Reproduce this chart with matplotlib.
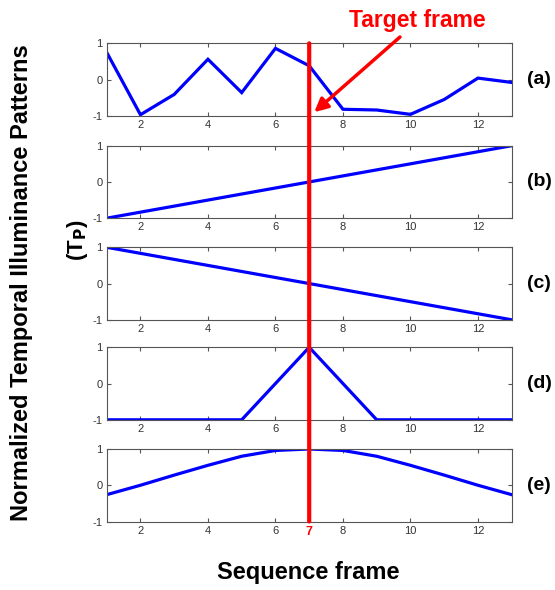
import matplotlib
matplotlib.use("Agg")
import matplotlib.pyplot as plt
from matplotlib.patches import ConnectionPatch

frames = list(range(1, 14))
pattern_a = [0.75, -0.97, -0.41, 0.56, -0.36, 0.86, 0.38, -0.82, -0.84, -0.96, -0.55, 0.04, -0.08]
pattern_b = [-1.0, -0.8333, -0.6667, -0.5, -0.3333, -0.1667, 0.0, 0.1667, 0.3333, 0.5, 0.6667, 0.8333, 1.0]
pattern_c = [1.0, 0.8333, 0.6667, 0.5, 0.3333, 0.1667, 0.0, -0.1667, -0.3333, -0.5, -0.6667, -0.8333, -1.0]
pattern_d = [-1, -1, -1, -1, -1, 0, 1, 0, -1, -1, -1, -1, -1]
pattern_e = [-0.26, 0.0, 0.28, 0.55, 0.8, 0.96, 1.0, 0.96, 0.8, 0.55, 0.28, 0.0, -0.26]
patterns = [pattern_a, pattern_b, pattern_c, pattern_d, pattern_e]
panel_labels = ["(a)", "(b)", "(c)", "(d)", "(e)"]
xticks = [2, 4, 6, 8, 10, 12]
yticks = [-1, 0, 1]
target = 7

plt.rcParams['font.family'] = ['Liberation Sans', 'DejaVu Sans']

W, H = 555, 590
fig = plt.figure(figsize=(W / 100, H / 100), dpi=100)

tops_px = [43.3, 145.7, 247.3, 347.3, 449.0]
h_px = 72.5
left_px, right_px = 106.7, 511.7

axes = []
for i, (yv, lab) in enumerate(zip(patterns, panel_labels)):
    top = tops_px[i]
    ax = fig.add_axes([left_px / W, 1 - (top + h_px) / H, (right_px - left_px) / W, h_px / H])
    ax.plot(frames, yv, color='#0000ff', lw=2.3, solid_joinstyle='miter')
    ax.set_xlim(1, 13)
    ax.set_ylim(-1, 1)
    ax.set_yticks(yticks)
    ax.set_yticklabels([str(t) for t in yticks])
    if i == 4:
        ax.set_xticks(xticks + [target])
        ax.set_xticklabels([str(t) for t in xticks] + [str(target)])
    else:
        ax.set_xticks(xticks)
        ax.set_xticklabels([str(t) for t in xticks])
    ax.tick_params(direction='in', top=True, right=True, length=3, width=0.8,
                   colors='#555555', labelsize=8, labelcolor='#333333', pad=3)
    if i == 4:
        lbl = ax.get_xticklabels()[-1]
        lbl.set_color('red')
        lbl.set_fontsize(9)
        lbl.set_fontweight('bold')
    for s in ax.spines.values():
        s.set_color('#555555')
        s.set_linewidth(0.8)
    fig.text(539 / W, 1 - (top + h_px / 2) / H, lab, ha='center', va='center',
             fontsize=14, fontweight='bold')
    axes.append(ax)

con = ConnectionPatch(xyA=(target, 1), coordsA=axes[0].transData,
                      xyB=(target, -1), coordsB=axes[4].transData,
                      color='#ff0000', lw=3.0, zorder=10)
fig.add_artist(con)

fig.text(417 / W, 1 - 20 / H, "Target frame", color='#ff0000', fontsize=16.5,
         fontweight='bold', ha='center', va='center')
axes[0].annotate("", xy=(7.15, -0.9), xycoords='data',
                 xytext=(400 / W, 1 - 37 / H), textcoords='figure fraction',
                 arrowprops=dict(arrowstyle='-|>,head_length=0.8,head_width=0.4',
                                 color='#ff0000', lw=2.5, shrinkA=0, shrinkB=0),
                 annotation_clip=False, zorder=11)

fig.text(22 / W, 1 - 283 / H, "Normalized Temporal Illuminance Patterns",
         rotation=90, ha='center', va='center', fontsize=17, fontweight='bold')
fig.text(78 / W, 1 - 240 / H, r"(T$_\mathbf{P}$)", rotation=90, ha='center',
         va='center', fontsize=16, fontweight='bold')
fig.text(308 / W, 1 - 573 / H, "Sequence frame", ha='center', va='center',
         fontsize=17, fontweight='bold')

fig.savefig("out.png", dpi=100)
